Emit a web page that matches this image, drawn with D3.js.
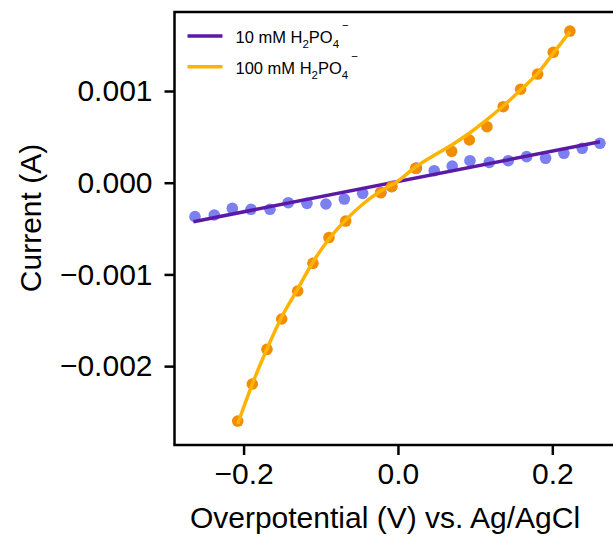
<!DOCTYPE html>
<html>
<head>
<meta charset="utf-8">
<script src="https://cdn.jsdelivr.net/npm/d3@7"></script>
<style>
    body { margin: 0; background: #fff; }
    text { font-family: Arial, "Liberation Sans", sans-serif; }
</style>
</head>
<body>
<svg id="chart"></svg>
<script>
// 10 mM measured points (V, A)
const low_x = [-0.263, -0.238, -0.2146, -0.1904, -0.1658, -0.1421, -0.1179, -0.0933, -0.0695, -0.0457,
    -0.022, -0.008, 0.024, 0.047, 0.0703, 0.0933, 0.1183, 0.1429, 0.1667, 0.1913, 0.215, 0.2387, 0.2617];
const low_y = [-0.00037, -0.000352, -0.00028, -0.00029, -0.00029, -0.000218, -0.000225, -0.000232, -0.000178, -0.000116,
    -0.000105, -0.00004, 0.00016, 0.000131, 0.000182, 0.00024, 0.000222, 0.00024, 0.000284, 0.000266, 0.000321, 0.000375, 0.00043];
// 10 mM linear fit, end points
const low_fit_x = [-0.265, 0.2617];
const low_fit_y = [-0.000425, 0.000447];

// 100 mM measured points
const high_x = [-0.2076, -0.1887, -0.1697, -0.1506, -0.1299, -0.1101, -0.0894, -0.0677, -0.0224, -0.0082,
    0.0229, 0.0696, 0.0926, 0.1153, 0.1364, 0.1589, 0.181, 0.2012, 0.2228];
const high_y = [-0.002599, -0.002195, -0.001817, -0.001486, -0.001181, -0.000879, -0.000598, -0.000418, -0.000109, -0.0000436,
    0.000157, 0.000342, 0.000466, 0.000611, 0.000829, 0.001019, 0.001185, 0.001422, 0.001654];
// 100 mM fit curve
const high_fit_x = [-0.2076, -0.1887, -0.1697, -0.1506, -0.1299, -0.1101, -0.0894, -0.0677, -0.0453, -0.0224, -0.0013,
    0.0229, 0.0466, 0.0696, 0.0924, 0.1149, 0.1364, 0.1589, 0.181, 0.2012, 0.2228];
const high_fit_y = [-0.002631, -0.002195, -0.001814, -0.001465, -0.001159, -0.000865, -0.000614, -0.000407, -0.000232, -0.0000905, 0.0000109,
    0.000171, 0.000297, 0.000411, 0.000539, 0.000684, 0.000836, 0.001011, 0.001193, 0.001411, 0.001647];

const x_ticks = [-0.2, 0.0, 0.2];
const y_ticks = [-0.002, -0.001, 0.000, 0.001];
const legend_labels = [["10 mM H", "2", "PO", "4", "\u2212"], ["100 mM H", "2", "PO", "4", "\u2212"]];

const width = 613, height = 539;
const margin = {top: 12, left: 174.5, bottom: 94, right: -7};

let svg = d3.select('#chart')
    .attr('width', width)
    .attr('height', height);

const inner_width = width - margin.left - margin.right;
const inner_height = height - margin.top - margin.bottom;

let xscale = d3.scaleLinear()
    .domain([-0.2895, 0.2877])
    .range([0, inner_width]);
let yscale = d3.scaleLinear()
    .domain([-0.00286, 0.0018615])
    .range([inner_height, 0]);

let chart = svg.append('g')
    .attr('transform', `translate(${margin.left}, ${margin.top})`);

// axes
let xaxis = chart.append('g')
    .attr('transform', `translate(0, ${inner_height})`)
    .call(d3.axisBottom(xscale).tickValues(x_ticks).tickFormat(d3.format('.1f')).tickSize(10).tickPadding(8));
let yaxis = chart.append('g')
    .call(d3.axisLeft(yscale).tickValues(y_ticks).tickFormat(d3.format('.3f')).tickSize(10).tickPadding(12));

[xaxis, yaxis].forEach(a => {
    a.select('.domain').remove();
    a.selectAll('line').attr('stroke', '#000').attr('stroke-width', 2.5);
    a.selectAll('text').attr('fill', '#000').style('font-size', '30px')
        .style('font-family', 'Arial, "Liberation Sans", sans-serif');
});

// frame
chart.append('rect')
    .attr('x', 0).attr('y', 0)
    .attr('width', inner_width).attr('height', inner_height)
    .attr('fill', 'none')
    .attr('stroke', '#000')
    .attr('stroke-width', 2.5);

let line = d3.line()
    .x(d => xscale(d[0]))
    .y(d => yscale(d[1]));

// 10 mM
chart.selectAll('.low')
    .data(d3.zip(low_x, low_y))
    .enter()
    .append('circle')
    .attr('class', 'low')
    .attr('cx', d => xscale(d[0]))
    .attr('cy', d => yscale(d[1]))
    .attr('r', 5.8)
    .attr('fill', '#7b7ff0');

chart.append('path')
    .datum(d3.zip(low_fit_x, low_fit_y))
    .attr('d', line)
    .attr('fill', 'none')
    .attr('stroke', '#5a1aa6')
    .attr('stroke-width', 3.5);

// 100 mM
chart.selectAll('.high')
    .data(d3.zip(high_x, high_y))
    .enter()
    .append('circle')
    .attr('class', 'high')
    .attr('cx', d => xscale(d[0]))
    .attr('cy', d => yscale(d[1]))
    .attr('r', 5.8)
    .attr('fill', '#f28c00');

chart.append('path')
    .datum(d3.zip(high_fit_x, high_fit_y))
    .attr('d', line.curve(d3.curveCatmullRom))
    .attr('fill', 'none')
    .attr('stroke', '#fdb300')
    .attr('stroke-width', 3.5);

// legend
const legend_colors = ['#5a1aa6', '#fdb300'];
let legend = chart.selectAll('.legend')
    .data(legend_labels)
    .enter()
    .append('g')
    .attr('class', 'legend')
    .attr('transform', (d, i) => `translate(13, ${24 + i * 30.7})`);

legend.append('line')
    .attr('x1', 0).attr('x2', 35)
    .attr('stroke', (d, i) => legend_colors[i])
    .attr('stroke-width', 3.5);

let ltext = legend.append('text')
    .attr('x', 48)
    .attr('y', 7)
    .style('font-size', '16.5px')
    .attr('fill', '#000');
ltext.append('tspan').text(d => d[0]);
ltext.append('tspan').attr('dy', 5).style('font-size', '11.5px').text(d => d[1]);
ltext.append('tspan').attr('dy', -5).text(d => d[2]);
ltext.append('tspan').attr('dy', 5).style('font-size', '11.5px').text(d => d[3]);
ltext.append('tspan').attr('dy', -19).attr('dx', 3).style('font-size', '11.5px').text(d => d[4]);

// axis titles
svg.append('text')
    .attr('x', 385)
    .attr('y', 528)
    .attr('text-anchor', 'middle')
    .style('font-size', '30px')
    .attr('fill', '#000')
    .text('Overpotential (V) vs. Ag/AgCl');

svg.append('text')
    .attr('transform', `translate(41, 218) rotate(-90)`)
    .attr('text-anchor', 'middle')
    .style('font-size', '30px')
    .attr('fill', '#000')
    .text('Current (A)');
</script>
</body>
</html>
